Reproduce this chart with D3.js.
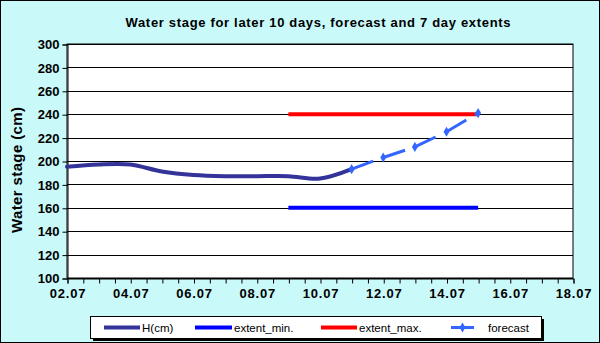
<!DOCTYPE html>
<html><head><meta charset="utf-8">
<script src="https://cdn.jsdelivr.net/npm/d3@7"></script>
<style>html,body{margin:0;padding:0;background:#fff;}svg{display:block;}</style>
</head><body>
<script>
// ---- data ----
const title = "Water stage for later 10 days, forecast and 7 day  extents";
const yTitle = "Water stage (cm)";
const xTickLabels = ["02.07","04.07","06.07","08.07","10.07","12.07","14.07","16.07","18.07"];
const yTicks = [100,120,140,160,180,200,220,240,260,280,300];
const hDays = [2,3,4,5,6,7,8,9,10,11];
const hValues = [195,197,197,191,188,187,187,187,185,193];
const extentDays = [9,15];
const extentMin = [160,160];
const extentMax = [240,240];
const forecastDays = [11,12,13,14,15];
const forecastValues = [193,203,212,225,241];
const seriesNames = ["H(cm)","extent_min.","extent_max.","forecast"];
const seriesColors = ["#333399","#0000FF","#FF0000","#3366FF"];

// ---- layout ----
const W = 600, H = 343;
const m = {left:67, right:573, top:44, bottom:278};
const svg = d3.select("body").append("svg").attr("width",W).attr("height",H);
const font = "Liberation Sans, Arial, sans-serif";

svg.append("rect").attr("x",0.5).attr("y",0.5).attr("width",W-1).attr("height",H-1)
  .attr("fill","#c9f9f9").attr("stroke","#000");

const x = d3.scaleLinear().domain([2,18]).range([m.left,m.right]);
const y = d3.scaleLinear().domain([100,300]).range([m.bottom,m.top]);

svg.append("rect").attr("x",m.left).attr("y",m.top).attr("width",m.right-m.left).attr("height",m.bottom-m.top)
  .attr("fill","#fff").attr("stroke","#000");

// grid
svg.append("g").selectAll("line").data(yTicks).join("line")
  .attr("x1",m.left).attr("x2",m.right)
  .attr("y1",d=>Math.round(y(d))+0.5).attr("y2",d=>Math.round(y(d))+0.5)
  .attr("stroke","#000").attr("stroke-width",1);

// y axis
const yAxis = d3.axisLeft(y).tickValues(yTicks).tickSize(5).tickPadding(3);
const gy = svg.append("g").attr("transform",`translate(${m.left+0.5},0.5)`).call(yAxis);
gy.select(".domain").attr("stroke","#000");
gy.selectAll("text").attr("font-family",font).attr("font-size",13).attr("font-weight","bold").attr("fill","#000");

// x axis
const xAxis = d3.axisBottom(x).tickValues(d3.range(2,18.01,0.5)).tickSize(5).tickPadding(5)
  .tickFormat(d => (d%2===0) ? xTickLabels[(d-2)/2] : "");
const gx = svg.append("g").attr("transform",`translate(0.5,${m.bottom+0.5})`).call(xAxis);
gx.select(".domain").attr("stroke","#000");
gx.selectAll("text").attr("font-family",font).attr("font-size",13).attr("font-weight","bold")
  .attr("letter-spacing","0.8px").attr("fill","#000");

// title
svg.append("text").attr("x",318).attr("y",27).attr("text-anchor","middle")
  .attr("font-family",font).attr("font-size",13).attr("font-weight","bold")
  .attr("textLength",385).attr("lengthAdjust","spacing").text(title);
svg.append("text").attr("transform","translate(22,170) rotate(-90)").attr("text-anchor","middle")
  .attr("font-family",font).attr("font-size",15).attr("font-weight","bold")
  .attr("textLength",126).attr("lengthAdjust","spacing").text(yTitle);

// series
const line = d3.line().x(d=>x(d[0])).y(d=>y(d[1]));
const smooth = d3.line().x(d=>x(d[0])).y(d=>y(d[1])).curve(d3.curveCatmullRom.alpha(0.5));

svg.append("path").datum(extentDays.map((d,i)=>[d,extentMin[i]]))
  .attr("d",line).attr("fill","none").attr("stroke",seriesColors[1]).attr("stroke-width",4);
svg.append("path").datum(extentDays.map((d,i)=>[d,extentMax[i]]))
  .attr("d",line).attr("fill","none").attr("stroke",seriesColors[2]).attr("stroke-width",4);
svg.append("path").datum(hDays.map((d,i)=>[d,hValues[i]]))
  .attr("d",smooth).attr("fill","none").attr("stroke",seriesColors[0]).attr("stroke-width",4)
  .attr("stroke-linecap","round");

// forecast: dashed segments restarting at each point
const fc = forecastDays.map((d,i)=>[d,forecastValues[i]]);
const segs = d3.pairs(fc);
svg.append("g").selectAll("path").data(segs).join("path")
  .attr("d",d=>line(d)).attr("fill","none").attr("stroke",seriesColors[3]).attr("stroke-width",3)
  .attr("stroke-dasharray","23,10");
const marker = d3.symbol(d3.symbolDiamond).size(30);
svg.append("g").selectAll("path").data(fc).join("path")
  .attr("d",marker).attr("fill",seriesColors[3])
  .attr("transform",d=>`translate(${x(d[0])},${y(d[1])})`);

// legend
const lg = svg.append("g");
lg.append("rect").attr("x",93).attr("y",319).attr("width",451).attr("height",22).attr("fill","#000");
lg.append("rect").attr("x",90.5).attr("y",316.5).attr("width",451).attr("height",22).attr("fill","#fff").attr("stroke","#000");
const legItems = [
  {x1:104,x2:140,tx:142},
  {x1:195,x2:232,tx:234},
  {x1:321,x2:357,tx:359},
  {x1:451,x2:474,tx:488}
];
legItems.forEach((it,i)=>{
  lg.append("line").attr("x1",it.x1).attr("x2",it.x2).attr("y1",327.5).attr("y2",327.5)
    .attr("stroke",seriesColors[i]).attr("stroke-width",i===3?3:4);
  if(i===3){
    lg.append("path").attr("d",marker).attr("fill",seriesColors[3])
      .attr("transform",`translate(${(it.x1+it.x2)/2},327.5)`);
  }
  lg.append("text").attr("x",it.tx).attr("y",331.5).attr("font-family",font).attr("font-size",11.5)
    .attr("fill","#000").text(seriesNames[i]);
});
</script>
</body></html>
